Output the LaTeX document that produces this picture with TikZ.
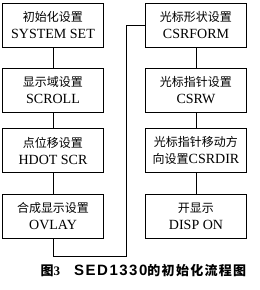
\documentclass[tikz,border=0pt]{standalone}
\usepackage{fontspec}
\setmainfont{Liberation Serif}
\newfontfamily\cjk{Noto Sans CJK SC}
\newfontfamily\capcjk[LetterSpace=10]{Noto Sans CJK SC}
\newfontfamily\caplatin[LetterSpace=10]{Liberation Sans}

\begin{document}
\begin{tikzpicture}[
    x=1pt, y=-1pt,
    box/.style={draw, line width=1pt, minimum height=44pt,
                minimum width=101pt, align=center, inner sep=0pt,
                font=\fontsize{14}{17}\selectfont},
    link/.style={line width=1pt},
    caption/.style={font=\bfseries\fontsize{13}{13}\selectfont},
]
    \useasboundingbox (0,0) rectangle (260,290);

    % left column
    \node[box] (sysset) at (53, 25.5) {{\cjk\fontsize{12}{12}\selectfont 初始化设置}\\SYSTEM SET};
    \node[box] (scroll) at (53, 90) {{\cjk\fontsize{12}{12}\selectfont 显示域设置}\\SCROLL};
    \node[box] (hdot) at (53, 150.5) {{\cjk\fontsize{12}{12}\selectfont 点位移设置}\\HDOT SCR};
    \node[box] (ovlay) at (53, 216) {{\cjk\fontsize{12}{12}\selectfont 合成显示设置}\\OVLAY};
    \draw[link] (sysset) -- (scroll);
    \draw[link] (scroll) -- (hdot);
    \draw[link] (hdot) -- (ovlay);

    % right column
    \node[box] (csrform) at (196, 25.5) {{\cjk\fontsize{12}{12}\selectfont 光标形状设置}\\CSRFORM};
    \node[box] (csrw) at (196, 90) {{\cjk\fontsize{12}{12}\selectfont 光标指针设置}\\CSRW};
    \node[box] (csrdir) at (196, 150.5) {{\cjk\fontsize{12}{12}\selectfont 光标指针移动方}\\{\cjk\fontsize{12}{12}\selectfont 向设置}CSRDIR};
    \node[box] (dispon) at (196, 216) {{\cjk\fontsize{12}{12}\selectfont 开显示}\\DISP ON};
    \draw[link] (csrform) -- (csrw);
    \draw[link] (csrw) -- (csrdir);
    \draw[link] (csrdir) -- (dispon);

    % jump between columns
    \coordinate (bend) at (126, 256);
    \draw[link] (ovlay.south) |- (bend) |- (csrform.west);

    \node[caption] (title) at (143.5, 270.5)
        {{\cjk 图}3\hspace{14pt}{\caplatin\fontsize{15}{15}\selectfont SED1330}{\capcjk 的初始化流程图}};
\end{tikzpicture}
\end{document}
